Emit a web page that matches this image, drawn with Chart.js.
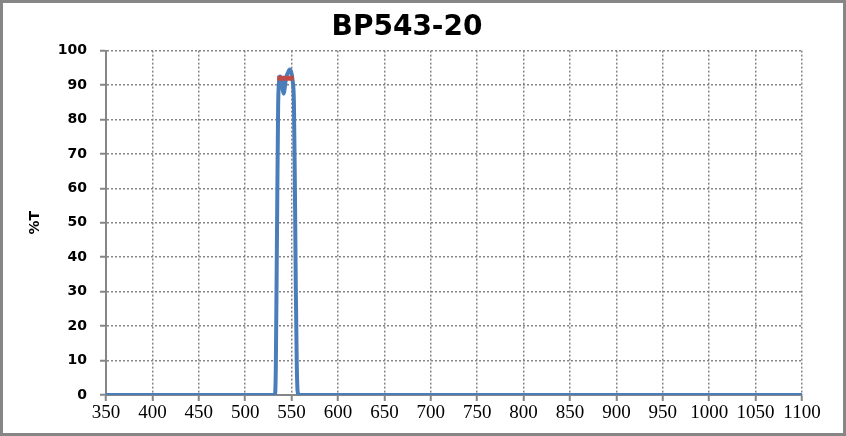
<!DOCTYPE html>
<html>
<head>
<meta charset="utf-8">
<script src="https://cdn.jsdelivr.net/npm/chart.js@4"></script>
<style>
  html, body { margin: 0; padding: 0; background: #fff; }
  #wrap { width: 846px; height: 436px; }
</style>
</head>
<body>
<div id="wrap"><canvas id="bpChart" width="846" height="436"></canvas></div>
<script>
// BP543-20 transmission curve
const wavelengths = [350, 400, 500, 530, 532, 533, 534.5, 535.5, 536.5, 537.5, 539, 540.5, 541.5, 542.5, 544, 546, 548, 549.5, 551, 552.5, 553.5, 554.5, 555.5, 556.5, 558, 600, 800, 1100];
const transmission = [0, 0, 0, 0, 0, 8, 55, 84, 91, 92.5, 91.5, 88.5, 87.5, 89, 92, 93.5, 94.5, 93.8, 91.5, 85, 62, 32, 10, 1, 0, 0, 0, 0];

// average %T marker
const avgWavelengths = [534.5, 552.5];
const avgValues = [92, 92];

const xTicks = [350, 400, 450, 500, 550, 600, 650, 700, 750, 800, 850, 900, 950, 1000, 1050, 1100];

const gray = '#868686';

// outer frame + solid axis lines (grid lines are dotted)
const frame = {
    id: 'frame',
    beforeDatasetsDraw(chart) {
        const { ctx, chartArea: a } = chart;
        ctx.save();
        ctx.strokeStyle = gray;
        ctx.lineWidth = 2;
        ctx.setLineDash([]);
        ctx.beginPath();
        ctx.moveTo(a.left, a.top);
        ctx.lineTo(a.left, a.bottom);
        ctx.lineTo(a.right, a.bottom);
        ctx.stroke();
        ctx.restore();
    },
    afterDraw(chart) {
        const ctx = chart.ctx;
        ctx.save();
        ctx.strokeStyle = gray;
        ctx.lineWidth = 3;
        ctx.strokeRect(1.5, 1.5, chart.width - 3, chart.height - 3);
        ctx.restore();
    },
};

const ctx = document.getElementById('bpChart').getContext('2d');
new Chart(ctx, {
    type: 'line',
    data: {
        datasets: [{
            label: '%T',
            data: wavelengths.map((w, i) => ({ x: w, y: transmission[i] })),
            borderColor: '#4a7ebb',
            borderWidth: 4,
            pointRadius: 0,
            tension: 0.3,
            cubicInterpolationMode: 'monotone',
            fill: false,
            order: 2,
        }, {
            label: 'Average',
            data: avgWavelengths.map((w, i) => ({ x: w, y: avgValues[i] })),
            borderColor: '#be4b48',
            borderWidth: 5,
            pointRadius: 0,
            fill: false,
            order: 1,
        }],
    },
    options: {
        responsive: false,
        animation: false,
        layout: {
            padding: { left: 12, right: 44, top: 0, bottom: 0 },
        },
        plugins: {
            legend: { display: false },
            tooltip: { enabled: false },
            title: {
                display: true,
                text: 'BP543-20',
                color: '#000',
                font: { family: 'DejaVu Sans', weight: 'bold', size: 28, lineHeight: 1.2 },
                padding: { top: 11, bottom: 6 },
            },
        },
        scales: {
            x: {
                type: 'linear',
                min: 350,
                max: 1100,
                afterBuildTicks: (scale) => { scale.ticks = xTicks.map(v => ({ value: v })); },
                afterFit: (scale) => { scale.height = 41; },
                ticks: {
                    autoSkip: false,
                    maxRotation: 0,
                    color: '#000',
                    padding: 1,
                    font: { family: 'Liberation Serif', size: 19 },
                    callback: (v) => String(v),
                },
                grid: {
                    color: gray,
                    lineWidth: 1.5,
                    tickLength: 6,
                    tickColor: gray,
                    tickWidth: 2,
                    tickBorderDash: [],
                },
                border: { display: true, color: gray, width: 2, dash: [2, 2] },
            },
            y: {
                min: 0,
                max: 100,
                afterFit: (scale) => { scale.width = 94; },
                ticks: {
                    stepSize: 10,
                    color: '#000',
                    padding: 13,
                    font: { family: 'DejaVu Sans', weight: 'bold', size: 14 },
                },
                grid: {
                    color: gray,
                    lineWidth: 1.5,
                    tickLength: 6,
                    tickColor: gray,
                    tickWidth: 2,
                    tickBorderDash: [],
                },
                border: { display: true, color: gray, width: 2, dash: [2, 2] },
                title: {
                    display: true,
                    text: '%T',
                    color: '#000',
                    font: { family: 'DejaVu Sans', weight: 'bold', size: 14 },
                    padding: { top: 15, bottom: 0 },
                },
            },
        },
    },
    plugins: [frame],
});
</script>
</body>
</html>
